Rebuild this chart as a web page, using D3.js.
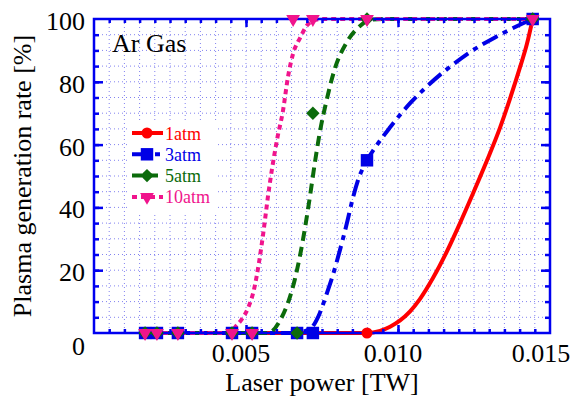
<!DOCTYPE html>
<html>
<head>
<meta charset="utf-8">
<script src="https://cdn.jsdelivr.net/npm/d3@7"></script>
<style>
  html, body { margin: 0; padding: 0; background: #ffffff; }
  svg { display: block; font-family: 'Liberation Serif', 'Times New Roman', serif; }
</style>
</head>
<body>
<svg id="chart" width="573" height="400"></svg>
<script>
// measured points (laser power [TW], plasma generation rate [%])
const power1 = [0.00168, 0.00207, 0.00276, 0.00454, 0.0052, 0.00668, 0.0072, 0.00898, 0.01443];
const rate1 = [0, 0, 0, 0, 0, 0, 0, 0, 100];
const power3 = [0.00168, 0.00207, 0.00276, 0.00454, 0.0052, 0.00668, 0.0072, 0.00898, 0.01443];
const rate3 = [0, 0, 0, 0, 0, 0, 0, 55, 100];
const power5 = [0.00168, 0.00207, 0.00276, 0.00454, 0.0052, 0.00668, 0.0072, 0.00898, 0.01443];
const rate5 = [0, 0, 0, 0, 0, 0, 70, 100, 100];
const power10 = [0.00168, 0.00207, 0.00276, 0.00454, 0.0052, 0.00655, 0.0072, 0.00898, 0.01443];
const rate10 = [0, 0, 0, 0, 0, 100, 100, 100, 100];

// fitted curves
const fitPower1 = [0.00168, 0.00898, 0.00941, 0.00974, 0.01007, 0.01039, 0.01072, 0.01115, 0.01161, 0.01204, 0.01247, 0.01293, 0.01336, 0.01368, 0.01401, 0.01424, 0.01443];
const fitRate1 = [0, 0, 0.7, 2, 4, 6.8, 10.8, 17.5, 26, 35, 44.5, 55, 65.5, 74.5, 84.5, 92, 100];
const fitPower3 = [0.00168, 0.00668, 0.00694, 0.0072, 0.00743, 0.00763, 0.00786, 0.00809, 0.00832, 0.00849, 0.00868, 0.00895, 0.00928, 0.00974, 0.01007, 0.01043, 0.01086, 0.01138, 0.01178, 0.0123, 0.01322, 0.01368, 0.01408, 0.01443];
const fitRate3 = [0, 0, 0.6, 2.2, 6.4, 11.8, 18.5, 26.4, 35, 42, 48.5, 54.5, 59.5, 65.5, 69.5, 73.5, 77.7, 82.2, 85.3, 89, 94.3, 96.6, 98.5, 100];
const fitPower5 = [0.00168, 0.00572, 0.00618, 0.00638, 0.00661, 0.00678, 0.00694, 0.00711, 0.00727, 0.00743, 0.00763, 0.00793, 0.00832, 0.00875, 0.00908, 0.0095, 0.01443];
const fitRate5 = [0, 0, 5.1, 9.6, 17.2, 24.8, 33.4, 43.9, 54.5, 64, 73.2, 84.4, 92.7, 97.8, 99.7, 100, 100];
const fitPower10 = [0.00168, 0.00441, 0.0047, 0.00487, 0.00507, 0.00526, 0.00543, 0.00559, 0.00572, 0.00586, 0.00602, 0.00622, 0.00638, 0.00655, 0.00678, 0.00701, 0.0072, 0.0075, 0.01443];
const fitRate10 = [0, 0, 2.5, 4.5, 8, 13.7, 22.6, 33.4, 43.3, 52.5, 61.5, 71, 81.5, 89, 94, 98, 99.5, 100, 100];

const seriesNames = ['1atm', '3atm', '5atm', '10atm'];
const xTickLabels = ['0.005', '0.010', '0.015'];
const yTickLabels = ['0', '20', '40', '60', '80', '100'];

const series = [
  { name: seriesNames[0], px: power1, py: rate1, fx: fitPower1, fy: fitRate1, color: '#ff0000', dash: null, symbol: 'circle' },
  { name: seriesNames[1], px: power3, py: rate3, fx: fitPower3, fy: fitRate3, color: '#0000e6', dash: '17,6,5,6', symbol: 'square' },
  { name: seriesNames[2], px: power5, py: rate5, fx: fitPower5, fy: fitRate5, color: '#0b6b0b', dash: '10,6', symbol: 'diamond' },
  { name: seriesNames[3], px: power10, py: rate10, fx: fitPower10, fy: fitRate10, color: '#f0148c', dash: '5,4', symbol: 'triangle' }
];

const svgArea = { left: 94, right: 550, top: 19, bottom: 333 };
const svg = d3.select('#chart');
const frameColor = '#0000f0';

const x = d3.scaleLinear().domain([0, 0.015]).range([svgArea.left, svgArea.right]);
const y = d3.scaleLinear().domain([0, 100]).range([svgArea.bottom, svgArea.top]);

const xMinor = d3.range(1, 30).map(i => i * 0.0005);
const yMinor = d3.range(1, 20).map(i => i * 5);

// dotted grid
const grid = svg.append('g')
  .attr('stroke', '#8282f0')
  .attr('stroke-width', 1)
  .attr('stroke-dasharray', '1,3');
grid.selectAll('.gx').data(xMinor).join('line')
  .attr('x1', d => x(d)).attr('x2', d => x(d))
  .attr('y1', svgArea.top).attr('y2', svgArea.bottom);
grid.selectAll('.gy').data(yMinor).join('line')
  .attr('x1', svgArea.left).attr('x2', svgArea.right)
  .attr('y1', d => y(d)).attr('y2', d => y(d));

// fitted lines
const line = d3.line()
  .x(d => x(d[0]))
  .y(d => y(d[1]))
  .curve(d3.curveMonotoneX);

for (const s of series) {
  svg.append('path')
    .datum(s.fx.map((v, i) => [v, s.fy[i]]))
    .attr('fill', 'none')
    .attr('stroke', s.color)
    .attr('stroke-width', 4)
    .attr('stroke-dasharray', s.dash)
    .attr('d', line);
}

// frame and ticks
const tickStyle = g => {
  g.select('.domain').remove();
  g.selectAll('.tick line').attr('stroke', frameColor).attr('stroke-width', 2.5);
  g.selectAll('text').remove();
};
const b = svgArea;
svg.append('g').attr('transform', `translate(0,${b.bottom})`)
  .call(d3.axisBottom(x).tickValues(xMinor).tickSize(-4)).call(tickStyle);
svg.append('g').attr('transform', `translate(0,${b.bottom})`)
  .call(d3.axisBottom(x).tickValues([0.005, 0.01]).tickSize(-8)).call(tickStyle);
svg.append('g').attr('transform', `translate(0,${b.top})`)
  .call(d3.axisTop(x).tickValues(xMinor).tickSize(-4)).call(tickStyle);
svg.append('g').attr('transform', `translate(0,${b.top})`)
  .call(d3.axisTop(x).tickValues([0.005, 0.01]).tickSize(-8)).call(tickStyle);
svg.append('g').attr('transform', `translate(${b.left},0)`)
  .call(d3.axisLeft(y).tickValues(yMinor).tickSize(-5)).call(tickStyle);
svg.append('g').attr('transform', `translate(${b.left},0)`)
  .call(d3.axisLeft(y).tickValues([20, 40, 60, 80]).tickSize(-9)).call(tickStyle);
svg.append('g').attr('transform', `translate(${b.right},0)`)
  .call(d3.axisRight(y).tickValues(yMinor).tickSize(-5)).call(tickStyle);
svg.append('g').attr('transform', `translate(${b.right},0)`)
  .call(d3.axisRight(y).tickValues([20, 40, 60, 80]).tickSize(-9)).call(tickStyle);

svg.append('rect')
  .attr('x', b.left).attr('y', b.top)
  .attr('width', b.right - b.left).attr('height', b.bottom - b.top)
  .attr('fill', 'none')
  .attr('stroke', frameColor)
  .attr('stroke-width', 2.5);

// markers
const symbolPath = (kind) => {
  if (kind === 'circle') return d3.symbol(d3.symbolCircle, 95)();
  if (kind === 'square') return d3.symbol(d3.symbolSquare, 155)();
  if (kind === 'diamond') return d3.symbol(d3.symbolSquare, 90)();
  return d3.symbol(d3.symbolTriangle, 82)();
};
const symbolRotate = (kind) => kind === 'diamond' ? 45 : (kind === 'triangle' ? 180 : 0);

for (const s of series) {
  svg.append('g').selectAll('path')
    .data(s.px.map((v, i) => [v, s.py[i]]))
    .join('path')
    .attr('transform', d => `translate(${x(d[0])},${y(d[1])}) rotate(${symbolRotate(s.symbol)})`)
    .attr('d', symbolPath(s.symbol))
    .attr('fill', s.color);
}

// tick labels
svg.append('g').selectAll('text')
  .data(xTickLabels)
  .join('text')
  .attr('x', d => x(+d))
  .attr('dx', (d, i) => i === 2 ? -9 : -5)
  .attr('y', 362)
  .attr('text-anchor', 'middle')
  .attr('font-size', 26)
  .text(d => d);
svg.append('g').selectAll('text')
  .data(yTickLabels)
  .join('text')
  .attr('x', b.left - 9)
  .attr('y', d => y(+d))
  .attr('dy', d => d === '0' ? '0.85em' : '0.42em')
  .attr('text-anchor', 'end')
  .attr('font-size', 26)
  .text(d => d);

// axis titles
svg.append('text')
  .attr('x', (b.left + b.right) / 2)
  .attr('y', 391)
  .attr('text-anchor', 'middle')
  .attr('font-size', 26)
  .text('Laser power [TW]');
svg.append('text')
  .attr('transform', 'rotate(-90)')
  .attr('x', -(b.top + b.bottom) / 2)
  .attr('y', 31)
  .attr('text-anchor', 'middle')
  .attr('font-size', 26)
  .text('Plasma generation rate [%]');

svg.append('text')
  .attr('x', 112)
  .attr('y', 52)
  .attr('font-size', 26)
  .text('Ar Gas');

// legend
const legend = svg.append('g');
legend.append('rect')
  .attr('x', 128).attr('y', 121)
  .attr('width', 89).attr('height', 93)
  .attr('fill', '#ffffff');
series.forEach((s, i) => {
  const ly = 133 + i * 21.3;
  legend.append('line')
    .attr('x1', 132).attr('x2', 163)
    .attr('y1', ly).attr('y2', ly)
    .attr('stroke', s.color)
    .attr('stroke-width', 4)
    .attr('stroke-dasharray', s.dash);
  legend.append('path')
    .attr('transform', `translate(147,${ly}) rotate(${symbolRotate(s.symbol)})`)
    .attr('d', symbolPath(s.symbol))
    .attr('fill', s.color);
  legend.append('text')
    .attr('x', 165)
    .attr('y', ly + 6.5)
    .attr('font-size', 18)
    .attr('fill', s.color)
    .text(s.name);
});
</script>
</body>
</html>
